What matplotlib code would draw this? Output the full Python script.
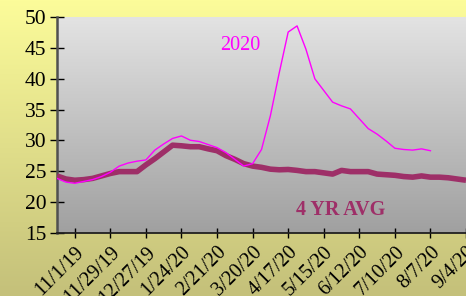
import numpy as np
import pandas as pd
import matplotlib
matplotlib.use("Agg")
import matplotlib.pyplot as plt
from matplotlib.colors import LinearSegmentedColormap

# ---- data (weekly, starting 10/18/19) ----
start_date = "2019-10-18"
avg_values = [24.2, 23.7, 23.5, 23.6, 23.8, 24.2, 24.6, 24.9, 24.9, 24.9,
              26.0, 27.0, 28.1, 29.2, 29.1, 28.95, 28.95, 28.6, 28.3, 27.5,
              26.9, 26.2, 25.8, 25.6, 25.3, 25.2, 25.25, 25.1, 24.9, 24.9,
              24.7, 24.5, 25.1, 24.9, 24.9, 24.9, 24.5, 24.4, 24.3, 24.1,
              24.0, 24.2, 24.0, 24.0, 23.9, 23.7, 23.5]
y2020_values = [23.8, 23.2, 23.0, 23.3, 23.6, 24.1, 24.8, 25.8, 26.3, 26.6,
                26.8, 28.4, 29.4, 30.3, 30.7, 30.0, 29.8, 29.3, 28.8, 28.0,
                26.9, 25.8, 26.2, 28.5, 34.0, 41.0, 47.6, 48.6, 44.8, 40.0,
                38.1, 36.2, 35.6, 35.1, 33.5, 31.9, 31.0, 29.9, 28.7, 28.5,
                28.4, 28.6, 28.3]
tick_labels = ["11/1/19", "11/29/19", "12/27/19", "1/24/20", "2/21/20", "3/20/20",
               "4/17/20", "5/15/20", "6/12/20", "7/10/20", "8/7/20", "9/4/20"]
y_ticks = [15, 20, 25, 30, 35, 40, 45, 50]

avg_dates = pd.date_range(start_date, periods=len(avg_values), freq="7D")
y2020_dates = pd.date_range(start_date, periods=len(y2020_values), freq="7D")
tick_dates = pd.to_datetime(tick_labels, format="%m/%d/%y")

plt.rcParams['font.family'] = ['Liberation Serif', 'DejaVu Serif']

W, H = 466, 296
fig = plt.figure(figsize=(W / 100, H / 100), dpi=100)

# figure background gradient (yellow -> olive)
bg = fig.add_axes([0, 0, 1, 1], zorder=-10)
bg.axis("off")
cmap_bg = LinearSegmentedColormap.from_list("bg", ["#fcfc9a", "#c4c07a"])
bg.imshow(np.linspace(0, 1, 256).reshape(-1, 1), aspect="auto", cmap=cmap_bg,
          extent=[0, 1, 0, 1], transform=bg.transAxes)

left, right, top, bottom = 57 / W, 1.0, 1 - 17.3 / H, 1 - 232.5 / H
ax = fig.add_axes([left, bottom, right - left, top - bottom])
ax.set_facecolor("none")
cmap_pa = LinearSegmentedColormap.from_list("pa", ["#e3e3e3", "#a0a0a0"])
ax.imshow(np.linspace(0, 1, 256).reshape(-1, 1), aspect="auto", cmap=cmap_pa,
          extent=[0, 1, 0, 1], transform=ax.transAxes, zorder=0)

avg_color = "#9e2f68"
ax.plot(avg_dates, avg_values, color=avg_color, lw=4.0, zorder=3,
        solid_joinstyle="round", solid_capstyle="butt")
ax.plot(y2020_dates, y2020_values, color="#ff00ff", lw=1.0, zorder=4)

ax.set_xlim(avg_dates[0], avg_dates[-1])
ax.set_ylim(15, 50)
ax.set_yticks(y_ticks)
ax.set_yticklabels([str(v) for v in y_ticks], fontsize=15.5)
ax.set_xticks(tick_dates)
ax.set_xticklabels(tick_labels, fontsize=14.5, rotation=45, ha="right", va="top",
                   rotation_mode="anchor")

ax.tick_params(axis="y", direction="inout", length=9.5, width=1.0, pad=3, colors="black")
ax.tick_params(axis="x", direction="inout", length=7, width=1.0, pad=4, colors="black")
for s in ["top", "right"]:
    ax.spines[s].set_visible(False)
ax.spines["left"].set_color("#505050")
ax.spines["left"].set_linewidth(1.8)
ax.spines["bottom"].set_color("#202020")
ax.spines["bottom"].set_linewidth(1.3)

fig.text(240 / W, 1 - 46 / H, "2020", color="#ff00ff",
         fontsize=14.5, ha="center", va="center")
fig.text(341 / W, 1 - 210 / H, "4 YR AVG", color=avg_color,
         fontsize=14.5, fontweight="bold", ha="center", va="center")

fig.savefig("out.png", dpi=100)
